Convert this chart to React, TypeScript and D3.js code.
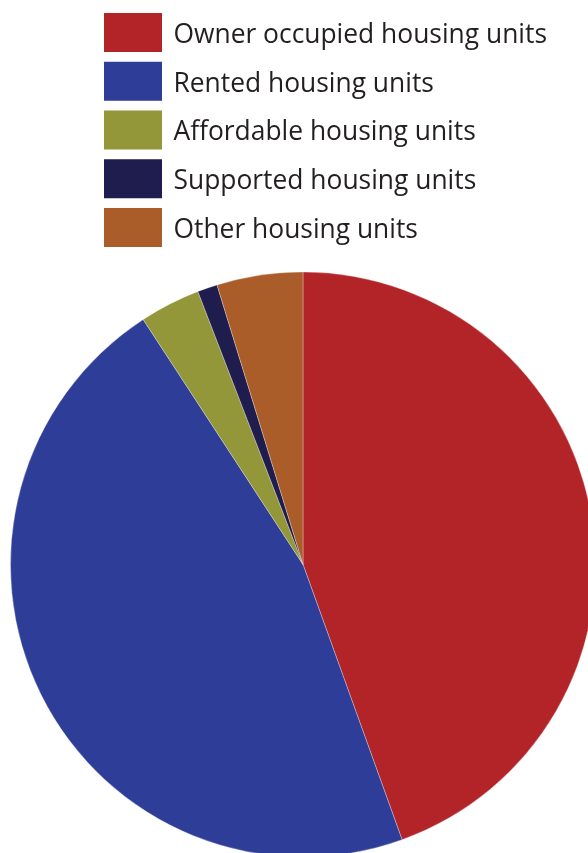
import * as d3 from "d3";
import { useEffect, useRef } from "react";

// slice shares (percent)
const categories = [
  "Owner occupied housing units",
  "Rented housing units",
  "Affordable housing units",
  "Supported housing units",
  "Other housing units",
];
const shares = [44.5, 46.3, 3.35, 1.1, 4.75];
const colors = ["#b22428", "#2e3d97", "#939639", "#1f1d4d", "#ab5d29"];

type Slice = { name: string; value: number; color: string };

const App = () => {
  const svgRef = useRef<SVGSVGElement | null>(null);

  useEffect(() => {
    const width = 588;
    const height = 853;
    const cx = 303;
    const cy = 564.5;
    const radius = 292.5;

    const svg = d3.select(svgRef.current);
    svg.selectAll("*").remove();
    svg.attr("width", width).attr("height", height);

    const data: Slice[] = categories.map((name, i) => ({
      name,
      value: shares[i],
      color: colors[i],
    }));

    const pie = d3
      .pie<Slice>()
      .sort(null)
      .value((d) => d.value);
    const arc = d3
      .arc<d3.PieArcDatum<Slice>>()
      .innerRadius(0)
      .outerRadius(radius);

    svg
      .append("g")
      .attr("transform", `translate(${cx}, ${cy})`)
      .selectAll("path")
      .data(pie(data))
      .enter()
      .append("path")
      .attr("d", arc)
      .style("fill", (d) => d.data.color)
      .style("stroke", "#ffffff")
      .style("stroke-opacity", 0.5)
      .style("stroke-width", "0.6px");

    // legend
    const legendY = d3
      .scaleLinear()
      .domain([0, categories.length - 1])
      .range([13, 208]);

    const legend = svg
      .append("g")
      .selectAll("g")
      .data(data)
      .enter()
      .append("g")
      .attr("transform", (_d, i) => `translate(104, ${legendY(i)})`);

    legend
      .append("rect")
      .attr("width", 58)
      .attr("height", 39)
      .style("fill", (d) => d.color);

    legend
      .append("text")
      .attr("x", 69.5)
      .attr("y", 29.8)
      .style("font-family", "'Open Sans', sans-serif")
      .style("font-size", "26.4px")
      .style("fill", "#231f20")
      .text((d) => d.name);
  }, []);

  return (
    <div style={{ position: "fixed", left: 0, top: 0 }}>
      <svg ref={svgRef} style={{ display: "block" }} />
    </div>
  );
};

export default App;
